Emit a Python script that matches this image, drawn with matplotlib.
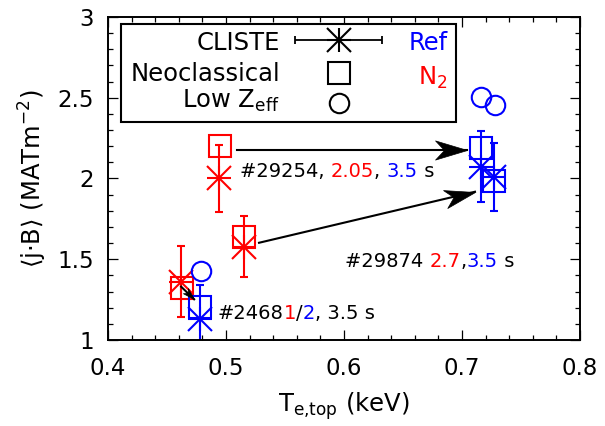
import numpy as np
import matplotlib
matplotlib.use('Agg')
import matplotlib.pyplot as plt
from matplotlib.patches import Rectangle
from matplotlib.path import Path
from matplotlib.ticker import MultipleLocator

plt.rcParams['font.family'] = ['DejaVu Sans']
plt.rcParams['mathtext.default'] = 'regular'

# Datos (shots 24681/2, 29874, 29254)
te_n2 = [0.462, 0.515, 0.494]
jb_cliste_n2 = [1.36, 1.578, 2.00]
err_n2 = [0.22, 0.19, 0.21]
te_neo_n2 = [0.463, 0.515, 0.495]
jb_neo_n2 = [1.325, 1.638, 2.20]

te_ref = [0.478, 0.727, 0.716]
jb_cliste_ref = [1.128, 2.007, 2.073]
err_ref = [0.21, 0.21, 0.22]
te_neo_ref = [0.478, 0.727, 0.716]
jb_neo_ref = [1.206, 1.985, 2.19]
te_lowz_ref = [0.479, 0.728, 0.716]
jb_lowz_ref = [1.427, 2.455, 2.507]

# Flechas N2 -> Ref
arrow_start = [(0.462, 1.33), (0.528, 1.602), (0.509, 2.176)]
arrow_end = [(0.473, 1.252), (0.711, 1.918), (0.704, 2.176)]
arrow_head = [16, 46, 46]

# Etiquetas (texto, color)
label_24681 = [('#2468', 'k'), ('1', 'r'), ('/', 'k'), ('2', 'b'), (', 3.5 s', 'k')]
label_29874 = [('#29874 ', 'k'), ('2.7', 'r'), (',', 'k'), ('3.5', 'b'), (' s', 'k')]
label_29254 = [('#29254, ', 'k'), ('2.05', 'r'), (', ', 'k'), ('3.5', 'b'), (' s', 'k')]
label_pos = [(0.493, 1.167), (0.601, 1.483), (0.512, 2.042)]

RED = '#ff0000'
BLUE = '#0000ff'
colores = {'k': 'black', 'r': RED, 'b': BLUE}

fig = plt.figure(figsize=(6.05, 4.26), dpi=100)
ax = fig.add_axes([0.1785, 0.2019, 0.7802, 0.7582])
ax.set_xlim(0.4, 0.8)
ax.set_ylim(1, 3)


def estrella(x, y, err, color):
    ax.errorbar(x, y, yerr=err, fmt='none', ecolor=color, elinewidth=1.5,
                capsize=3, capthick=1.5)
    ax.plot(x, y, ls='none', marker='+', ms=17, mew=1.5, color=color)
    ax.plot(x, y, ls='none', marker='x', ms=17, mew=1.5, color=color)


def cuadrado(x, y, color):
    ax.plot(x, y, ls='none', marker='s', ms=15.5, mew=1.5, mfc='none', mec=color)


def flecha(p0, p1, size):
    # linea + punta con muesca (estilo gnuplot)
    ax.plot([p0[0], p1[0]], [p0[1], p1[1]], color='black', lw=1.5)
    d0 = ax.transData.transform(p0)
    d1 = ax.transData.transform(p1)
    ang = np.arctan2(d1[1] - d0[1], d1[0] - d0[0])
    v = np.array([(0, 0), (-1, 0.3), (-0.72, 0), (-1, -0.3), (0, 0)])
    rot = np.array([[np.cos(ang), -np.sin(ang)], [np.sin(ang), np.cos(ang)]])
    v = v @ rot.T
    codes = [Path.MOVETO, Path.LINETO, Path.LINETO, Path.LINETO, Path.CLOSEPOLY]
    ax.plot([p1[0]], [p1[1]], marker=Path(v, codes), ms=size, color='black',
            mew=0.5)


estrella(te_n2, jb_cliste_n2, err_n2, RED)
cuadrado(te_neo_n2, jb_neo_n2, RED)
estrella(te_ref, jb_cliste_ref, err_ref, BLUE)
cuadrado(te_neo_ref, jb_neo_ref, BLUE)
ax.plot(te_lowz_ref, jb_lowz_ref, ls='none', marker='o', ms=14, mew=1.5,
        mfc='none', mec=BLUE)

for p0, p1, sz in zip(arrow_start, arrow_end, arrow_head):
    flecha(p0, p1, sz)

# Etiquetas multicolor
for piezas, pos in zip([label_24681, label_29874, label_29254], label_pos):
    t = ax.text(pos[0], pos[1], piezas[0][0], color=colores[piezas[0][1]],
                fontsize=14, va='center', ha='left')
    for txt, c in piezas[1:]:
        t = ax.annotate(txt, xy=(1, 0), xycoords=t, va='bottom', ha='left',
                        fontsize=14, color=colores[c])

# Leyenda hecha a mano
ax.add_patch(Rectangle((0.0275, 0.675), 0.7095, 0.303, transform=ax.transAxes,
                       fill=True, fc='white', ec='black', lw=1.5, zorder=5))
fs_leg = 17.5
for txt, yb in [('CLISTE', 0.898), ('Neoclassical', 0.803), ('Low Z$_{eff}$', 0.718)]:
    ax.text(0.364, yb, txt, transform=ax.transAxes, ha='right', va='baseline',
            fontsize=fs_leg, zorder=6)
ax.errorbar([0.489], [0.929], xerr=[0.092], fmt='none', ecolor='black',
            elinewidth=1.3, capsize=3, capthick=1.3, transform=ax.transAxes,
            clip_on=False, zorder=6)
for m in ['+', 'x']:
    ax.plot([0.489], [0.929], marker=m, ms=17, mew=1.5, color='black',
            transform=ax.transAxes, clip_on=False, zorder=6)
ax.plot([0.489], [0.827], marker='s', ms=15.5, mew=1.5, mfc='none', mec='black',
        transform=ax.transAxes, clip_on=False, zorder=6)
ax.plot([0.489], [0.734], marker='o', ms=14, mew=1.5, mfc='none', mec='black',
        transform=ax.transAxes, clip_on=False, zorder=6)
ax.text(0.720, 0.898, 'Ref', color=BLUE, transform=ax.transAxes, ha='right',
        va='baseline', fontsize=fs_leg, zorder=6)
ax.text(0.720, 0.789, 'N$_2$', color=RED, transform=ax.transAxes, ha='right',
        va='baseline', fontsize=fs_leg, zorder=6)

ax.set_xlim(0.4, 0.8)
ax.set_ylim(1, 3)
ax.xaxis.set_minor_locator(MultipleLocator(0.02))
ax.yaxis.set_minor_locator(MultipleLocator(0.1))
ax.set_xticks([0.4, 0.5, 0.6, 0.7, 0.8])
ax.set_xticklabels(['0.4', '0.5', '0.6', '0.7', '0.8'])
ax.set_yticks([1, 1.5, 2, 2.5, 3])
ax.set_yticklabels(['1', '1.5', '2', '2.5', '3'])
ax.tick_params(which='both', direction='in', top=True, right=True, labelsize=16.5,
               width=0.9)
ax.tick_params(which='major', length=7)
ax.tick_params(axis='x', which='major', pad=12.5)
ax.tick_params(axis='y', which='major', pad=10)
ax.tick_params(which='minor', length=3.6)
for s in ax.spines.values():
    s.set_linewidth(1.4)

ax.set_xlabel('T$_{e{,}top}$ (keV)', fontsize=17.5, labelpad=7)
ax.set_ylabel('⟨j·B⟩ (MATm$^{-2}$)', fontsize=17.5, labelpad=6)

fig.savefig('out.png', dpi=100)
